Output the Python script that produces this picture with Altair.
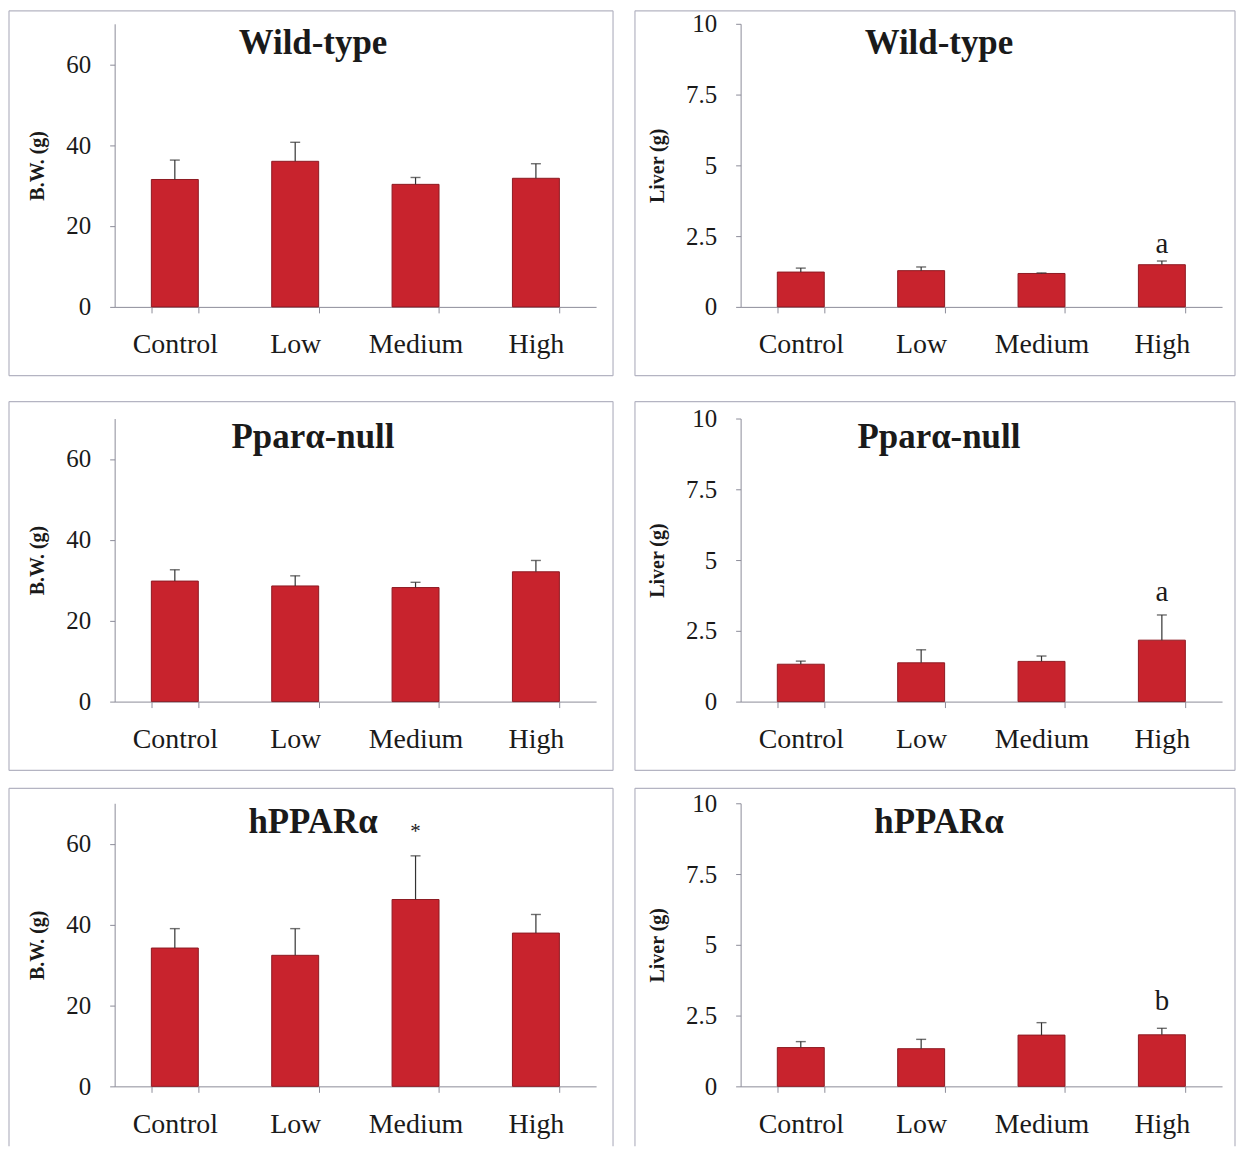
import altair as alt
import pandas as pd

doses = ["Control", "Low", "Medium", "High"]
groups = ["Wild-type", "Pparα-null", "hPPARα"]

# Body weight (g): mean and SD (upper error only)
bw_mean_wt = [31.5, 36.0, 30.3, 31.8]
bw_err_wt = [4.8, 4.7, 1.7, 3.6]
bw_mean_null = [29.8, 28.6, 28.2, 32.1]
bw_err_null = [2.8, 2.5, 1.3, 2.8]
bw_mean_h = [34.2, 32.4, 46.2, 37.9]
bw_err_h = [4.8, 6.6, 10.8, 4.6]

# Liver weight (g)
lv_mean_wt = [1.23, 1.28, 1.18, 1.49]
lv_err_wt = [0.14, 0.13, 0.02, 0.13]
lv_mean_null = [1.32, 1.37, 1.42, 2.17]
lv_err_null = [0.11, 0.46, 0.19, 0.89]
lv_mean_h = [1.37, 1.33, 1.81, 1.82]
lv_err_h = [0.21, 0.33, 0.44, 0.23]

# Significance marks: (dose, label, y position of text baseline)
ann_bw_h = [("Medium", "*", 61.5)]
ann_lv_wt = [("High", "a", 1.90)]
ann_lv_null = [("High", "a", 3.57)]
ann_lv_h = [("High", "b", 2.69)]

SERIF = "Liberation Serif"
BAR = "#C8232D"
BAR_EDGE = "#8E1A22"
AXIS = "#8C8C99"
TXT = "#1a1a1a"
FRAME = "#B4B4C2"

PW, PH = 483, 284

one = pd.DataFrame({"k": [0]})


def xenc():
    return alt.X(
        "dose:N",
        sort=doses,
        scale=alt.Scale(domain=doses, paddingInner=0.61, paddingOuter=0.305),
        axis=alt.Axis(
            title=None, labelAngle=0, tickBand="extent", domainColor=AXIS,
            tickColor=AXIS, tickSize=6, labelFont=SERIF, labelFontSize=28,
            labelColor=TXT, labelPadding=18, grid=False,
        ),
    )


def frame_layers(fl, fr, ft, fb, bottom):
    x0, x1, y0, y1 = -fl, PW + fr, -ft, PH + fb
    st = dict(color=FRAME, strokeWidth=1.2)
    out = [
        alt.Chart(one).mark_rule(**st).encode(x=alt.value(x0), x2=alt.value(x1), y=alt.value(y0)),
        alt.Chart(one).mark_rule(**st).encode(x=alt.value(x0), y=alt.value(y0), y2=alt.value(y1)),
        alt.Chart(one).mark_rule(**st).encode(x=alt.value(x1), y=alt.value(y0), y2=alt.value(y1)),
    ]
    if bottom:
        out.append(
            alt.Chart(one).mark_rule(**st).encode(x=alt.value(x0), x2=alt.value(x1), y=alt.value(y1))
        )
    return out


def panel(title, mean, err, ymax, yvals, ytitle, ann, fl, fr, ft, fb, bottom=True):
    df = pd.DataFrame({"dose": doses, "mean": mean, "err": err})
    df["top"] = df["mean"] + df["err"]
    base = alt.Chart(df)
    y = alt.Y(
        "mean:Q",
        scale=alt.Scale(domain=[0, ymax], nice=False, zero=True),
        axis=alt.Axis(
            values=yvals, labelExpr="'' + datum.value", title=ytitle,
            titleFont=SERIF, titleFontSize=20, titleFontWeight="bold",
            titleColor=TXT, titlePadding=18, labelFont=SERIF, labelFontSize=25,
            labelColor=TXT, labelPadding=19, tickSize=5, domainColor=AXIS,
            tickColor=AXIS, grid=False,
        ),
    )
    bars = base.mark_bar(fill=BAR, stroke=BAR_EDGE, strokeWidth=1).encode(x=xenc(), y=y)
    rule = base.mark_rule(color="#333333", strokeWidth=1.2).encode(
        x=xenc(), y="mean:Q", y2="top:Q"
    )
    cap = base.mark_tick(color="#333333", size=10, thickness=1.4).encode(
        x=xenc(), y="top:Q"
    )
    ttl = alt.Chart(one).mark_text(
        text=title, font=SERIF, fontSize=35, fontWeight="bold", color=TXT,
        align="center", baseline="alphabetic",
    ).encode(x=alt.value(199), y=alt.value(30))
    layers = [bars, rule, cap, ttl] + frame_layers(fl, fr, ft, fb, bottom)
    if ann:
        adf = pd.DataFrame(ann, columns=["dose", "label", "ay"])
        size = 21 if adf["label"].iloc[0] == "*" else 29
        annot = alt.Chart(adf).mark_text(
            font=SERIF, fontSize=size, color=TXT, align="center",
            baseline="alphabetic",
        ).encode(x=xenc(), y="ay:Q", text="label:N")
        layers.append(annot)
    return alt.layer(*layers).properties(width=PW, height=PH)


bw_vals = [0, 20, 40, 60]
lv_vals = [0, 2.5, 5, 7.5, 10]

row1 = alt.hconcat(
    panel(groups[0], bw_mean_wt, bw_err_wt, 70, bw_vals, "B.W. (g)", None, 106, 17, 13, 69),
    panel(groups[0], lv_mean_wt, lv_err_wt, 10, lv_vals, "Liver (g)", ann_lv_wt, 106, 13, 13, 69),
    spacing=20,
)
row2 = alt.hconcat(
    panel(groups[1], bw_mean_null, bw_err_null, 70, bw_vals, "B.W. (g)", None, 106, 17, 17, 69),
    panel(groups[1], lv_mean_null, lv_err_null, 10, lv_vals, "Liver (g)", ann_lv_null, 106, 13, 17, 69),
    spacing=20,
)
row3 = alt.hconcat(
    panel(groups[2], bw_mean_h, bw_err_h, 70, bw_vals, "B.W. (g)", ann_bw_h, 106, 17, 15, 60, bottom=False),
    panel(groups[2], lv_mean_h, lv_err_h, 10, lv_vals, "Liver (g)", ann_lv_h, 106, 13, 15, 60, bottom=False),
    spacing=20,
)

chart = alt.vconcat(
    row1,
    alt.vconcat(row2, row3, spacing=16),
    spacing=24,
).properties(padding=0, background="white").configure_view(strokeOpacity=0)

chart.save("out.html", embed_options={"renderer": "svg", "actions": False})
